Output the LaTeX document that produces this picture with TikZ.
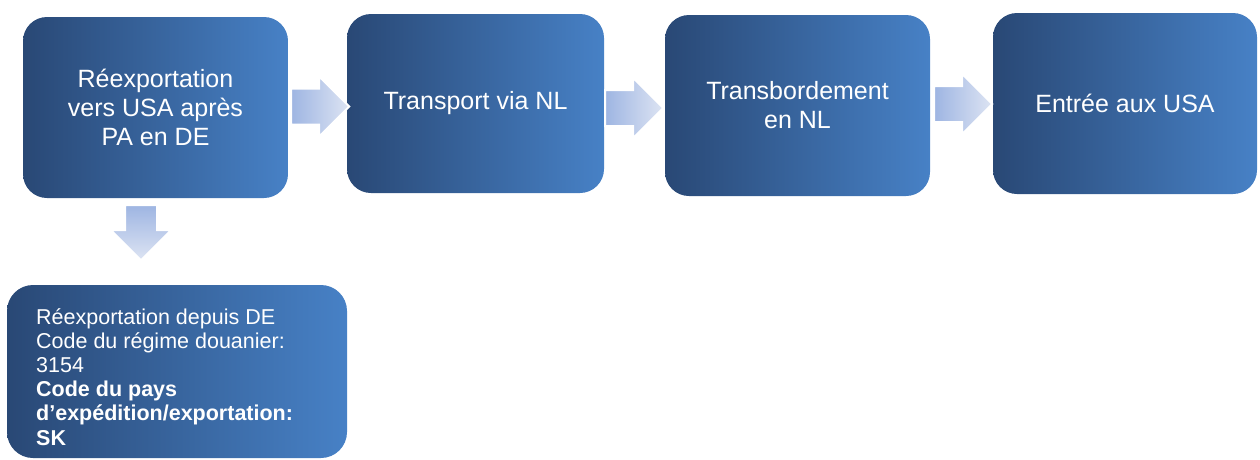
\documentclass[tikz,border=0pt]{standalone}
\usepackage{fontspec}
\setmainfont{Liberation Sans}
\usetikzlibrary{shapes.arrows,calc}
\definecolor{boxL}{RGB}{41,72,117}
\definecolor{boxR}{RGB}{71,129,198}
\definecolor{arrL}{RGB}{158,181,226}
\definecolor{arrR}{RGB}{221,228,243}
\begin{document}
\begin{tikzpicture}[x=1pt,y=-1pt,
  stepbox/.style={rectangle, rounded corners=24pt, left color=boxL, right color=boxR,
    draw=none, text=white, inner sep=0pt, align=center,
    font=\fontsize{25}{29}\selectfont},
  flowarrow/.style={single arrow, single arrow head extend=12pt,
    minimum height=58pt, inner xsep=0pt, inner ysep=17pt, draw=white, line width=2pt,
    left color=arrL, right color=arrR, anchor=tail},
  downarrow/.style={single arrow, rotate=-90, single arrow head extend=14pt,
    minimum height=55pt, inner xsep=0pt, inner ysep=15pt, draw=white, line width=2pt,
    top color=arrL, bottom color=arrR, anchor=tail},
  infotext/.style={text=white, align=left, inner sep=0pt, font=\fontsize{21.5}{24.2}\selectfont}
]
\useasboundingbox (0,0) rectangle (1260,459);

\node[stepbox, minimum width=265pt, minimum height=181pt] (b1) at (155.5,107.5)
  {Réexportation\\vers USA après\\PA en DE};
\node[stepbox, minimum width=257pt, minimum height=179pt] (b2) at (475.5,103.5)
  {Transport via NL};
\node[stepbox, minimum width=265pt, minimum height=181pt] (b3) at (797.5,105.5)
  {Transbordement\\en NL};
\node[stepbox, minimum width=264pt, minimum height=181pt] (b4) at (1125,103.5)
  {Entrée aux USA};
\node[stepbox, rounded corners=26pt, minimum width=340pt, minimum height=173pt] (b5) at (177,371.5) {};
\node[infotext, anchor=north west] (t5) at (36,308)
  {Réexportation depuis DE\\
   Code du régime douanier:\\
   3154\\
   \textbf{Code du pays}\\
   \textbf{d’expédition/exportation:}\\
   \textbf{SK}};

\node[flowarrow] (a1) at ($(b1.east)+(2,-1)$) {};
\node[flowarrow] (a2) at ($(b2.east)+(0,4.5)$) {};
\node[flowarrow] (a3) at ($(b3.east)+(3,-1.5)$) {};
\node[downarrow] (a4) at ($(b1.south)+(-14.5,6)$) {};
\end{tikzpicture}
\end{document}
